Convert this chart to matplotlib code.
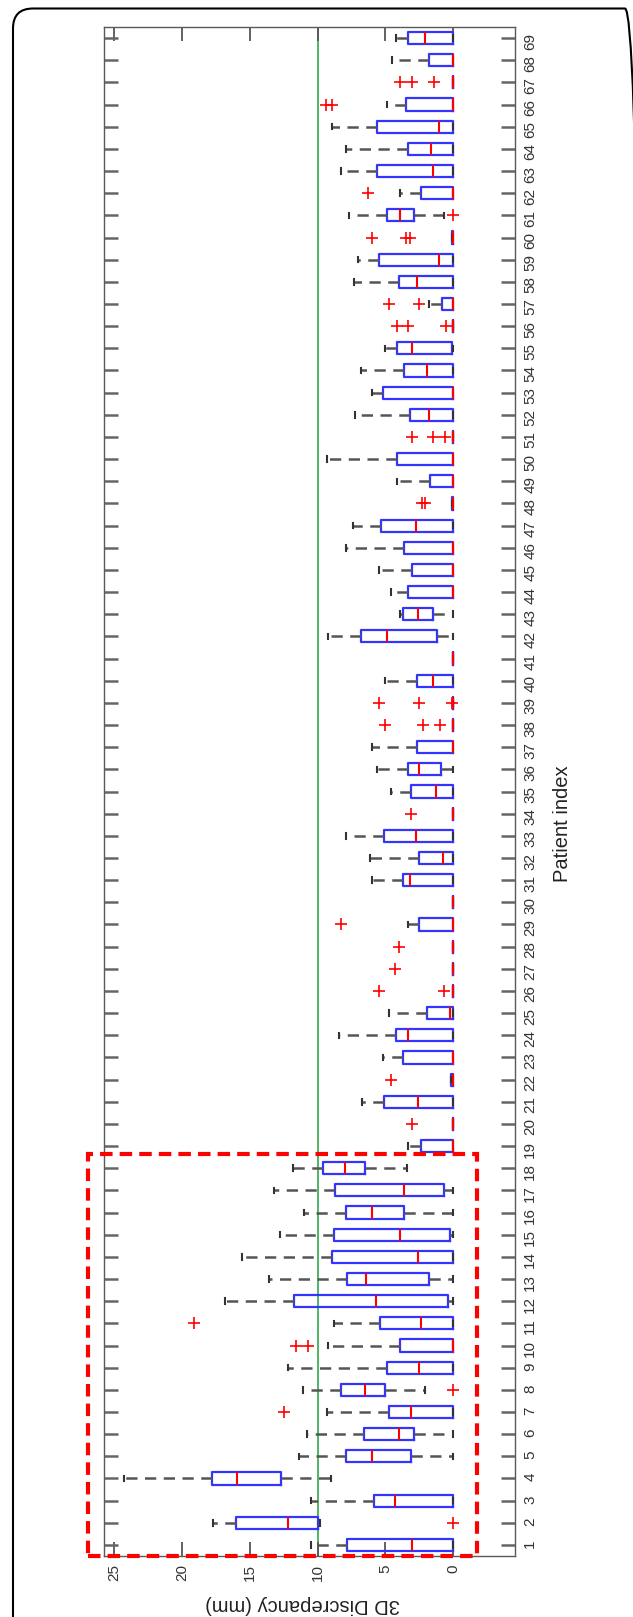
import matplotlib
matplotlib.use('Agg')
import matplotlib.pyplot as plt
from matplotlib.patches import FancyBboxPatch, Rectangle

plt.rcParams['font.family'] = ['Liberation Sans', 'DejaVu Sans']

patients = list(range(1, 70))

# box statistics per patient (mm)
q1 = [0, 10.0, 0, 12.7, 3.1, 2.85, 0, 5.0, 0, 0,
      0, 0.4, 1.8, 0, 0.2, 3.6, 0.7, 6.5, 0, 0,
      0, 0, 0, 0, 0, 0, 0, 0, 0, 0,
      0, 0, 0, 0, 0, 0.9, 0, 0, 0, 0,
      0, 1.2, 1.5, 0, 0, 0, 0, 0, 0, 0,
      0, 0, 0, 0, 0.1, 0, 0, 0, 0, 0,
      2.9, 0, 0, 0, 0, 0, 0, 0, 0]
med = [3.0, 12.2, 4.3, 15.9, 6.0, 4.0, 3.1, 6.5, 2.5, 0,
       2.4, 5.7, 6.4, 2.6, 3.9, 6.0, 3.6, 8.0, 0, 0,
       2.6, 0, 0, 3.3, 0.2, 0, 0, 0, 0, 0,
       3.2, 0.74, 2.75, 0, 1.3, 2.5, 0, 0, 0, 1.5,
       0, 4.9, 2.6, 0, 0, 0, 2.75, 0, 0, 0,
       0, 1.8, 0, 1.9, 3.05, 0, 0, 2.7, 1.07, 0,
       3.95, 0, 1.5, 1.6, 1.07, 0, 0, 0, 2.1]
q3 = [7.8, 16.0, 5.8, 17.8, 7.9, 6.6, 4.7, 8.3, 4.9, 3.9,
      5.4, 11.7, 7.8, 8.9, 8.8, 7.9, 8.7, 9.6, 2.4, 0,
      5.1, 0.15, 3.7, 4.2, 1.9, 0, 0, 0, 2.5, 0,
      3.7, 2.5, 5.1, 0, 3.1, 3.3, 2.7, 0, 0, 2.7,
      0, 6.8, 3.7, 3.3, 3.0, 3.6, 5.3, 0.1, 1.7, 4.15,
      0, 3.2, 5.2, 3.6, 4.15, 0, 0.8, 4.0, 5.5, 0.05,
      4.9, 2.4, 5.6, 3.3, 5.6, 3.45, 0, 1.8, 3.3]
whislo = [0, 9.85, 0, 9.0, 0, 0, 0, 2.1, 0, 0,
          0, 0, 0, 0, 0, 0, 0, 3.4, 0, 0,
          0, 0, 0, 0, 0, 0, 0, 0, 0, 0,
          0, 0, 0, 0, 0, 0, 0, 0, 0, 0,
          0, 0, 0, 0, 0, 0, 0, 0, 0, 0,
          0, 0, 0, 0, 0, 0, 0, 0, 0, 0,
          0.7, 0, 0, 0, 0, 0, 0, 0, 0]
whishi = [10.5, 17.7, 10.5, 24.3, 11.4, 10.8, 9.3, 11.1, 12.2, 9.2,
          8.8, 16.8, 13.6, 15.6, 12.8, 11.0, 13.2, 11.8, 3.3, 0,
          6.7, 0.15, 5.2, 8.45, 4.7, 0, 0, 0, 3.35, 0,
          6.0, 6.1, 7.9, 0, 4.6, 5.6, 6.0, 0, 0, 5.0,
          0, 9.2, 3.9, 4.6, 5.5, 7.9, 7.4, 0.1, 4.15, 9.3,
          0, 7.2, 6.0, 6.8, 5.0, 0, 1.8, 7.3, 7.05, 0.05,
          7.7, 3.95, 8.3, 7.9, 8.9, 4.9, 0, 4.5, 4.2]
outliers = [[], [0], [], [], [], [], [12.5], [0], [], [10.7, 11.6],
            [19.1], [], [], [], [], [], [], [], [], [3.05],
            [], [4.6], [], [], [], [0.7, 5.5], [4.3], [4.0], [8.3], [],
            [], [], [], [3.1], [], [], [], [1.0, 2.2, 5.0], [0.1, 2.5, 5.5], [],
            [], [], [], [], [], [], [], [2.1, 2.3], [], [],
            [0.6, 1.5, 3.05], [], [], [], [], [0.5, 3.35, 4.15], [2.5, 4.7], [], [], [3.2, 3.5, 6.0],
            [0], [6.3], [], [], [], [8.9, 9.4], [1.4, 3.0, 3.95], [], []]

threshold = 10
value_ticks = [0, 5, 10, 15, 20, 25]

stats = []
for i in range(len(patients)):
    stats.append(dict(q1=q1[i], med=med[i], q3=q3[i], whislo=whislo[i],
                      whishi=whishi[i], fliers=outliers[i]))

fig = plt.figure(figsize=(6.33, 16.17), dpi=100)
fig.patch.set_facecolor('white')
ax = fig.add_axes([0.1643, 0.0377, 0.6493, 0.9456])

ax.bxp(stats, positions=patients, orientation='horizontal', widths=0.55,
       capwidths=0.25,
       boxprops=dict(color='#3434ff', lw=1.6),
       medianprops=dict(color='#ff0000', lw=1.5, zorder=4),
       whiskerprops=dict(color='#555555', lw=1.8, ls=(0, (4.5, 3))),
       capprops=dict(color='#333333', lw=1.5),
       flierprops=dict(marker='+', markeredgecolor='#ff0000', markersize=8,
                       markeredgewidth=1.2))

ax.axvline(threshold, color='#1fa03c', lw=1.1, zorder=1)

ax.set_xlim(25.74, -4.56)
ax.set_ylim(0.5, 69.5)
ax.set_xticks(value_ticks)
ax.set_xticklabels([str(v) for v in value_ticks])
ax.set_yticks(patients)
ax.set_yticklabels([str(p) for p in patients])

ax.tick_params(axis='x', direction='in', top=True, bottom=True, length=10,
               width=1.3, color='#555555', labelsize=11, labelcolor='#333333',
               pad=6, labelrotation=90)
ax.tick_params(axis='y', direction='in', left=True, right=True,
               labelleft=False, labelright=True, length=10, width=1.8,
               color='#666666', labelsize=11, labelcolor='#333333', pad=6,
               labelrotation=90)
for s in ax.spines.values():
    s.set_color('#5a5a5a')
    s.set_linewidth(1)

ax.set_xlabel('3D Discrepancy (mm)', fontsize=14.5, rotation=180,
              va='center', ha='center', color='#222222')
ax.xaxis.set_label_coords(0.484, -0.032)
ax.yaxis.set_label_position('right')
ax.set_ylabel('Patient index', fontsize=14.5, rotation=90, va='center',
              ha='center', color='#222222')
ax.yaxis.set_label_coords(1.115, 0.479)

# dashed highlight around patients 1-18
ax.add_patch(Rectangle((26.9, 0.5), -1.76 - 26.9, 18.14, fill=False,
                       ec='#ff0000', lw=3, ls=(0, (3, 1.7)), clip_on=False,
                       zorder=6))

# rounded panel border, cut off by the right and bottom edges
fig.add_artist(FancyBboxPatch((0.13, -0.3), 6.32, 16.385,
                              boxstyle='round,pad=0,rounding_size=0.2',
                              transform=fig.dpi_scale_trans, fill=False,
                              ec='black', lw=1.5))

fig.savefig('out.png', dpi=100)
